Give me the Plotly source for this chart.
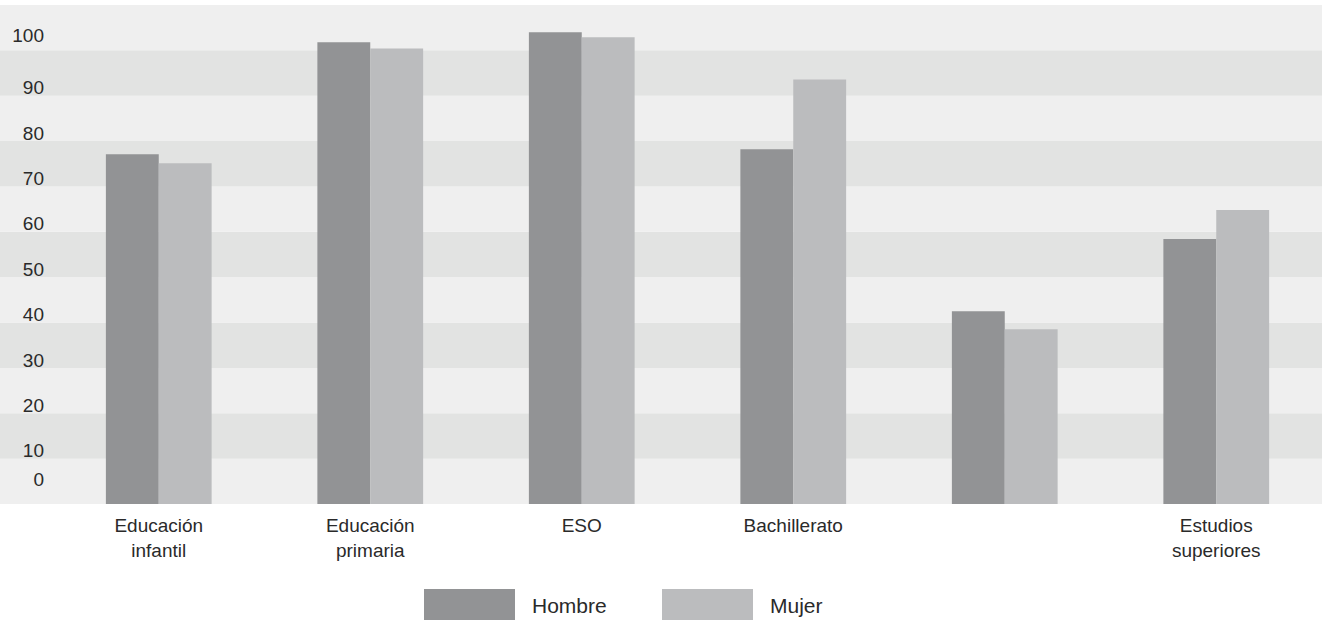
import plotly.graph_objects as go

# ---- data ----
categories = ["Educación infantil", "Educación primaria", "ESO", "Bachillerato", "", "Estudios superiores"]
series_names = ["Hombre", "Mujer"]
hombre = [77.1, 101.8, 104.0, 78.2, 42.5, 58.4]
mujer = [75.1, 100.4, 102.9, 93.6, 38.5, 64.8]
tick_values = [0, 10, 20, 30, 40, 50, 60, 70, 80, 90, 100]
tick_labels = ["0", "10", "20", "30", "40", "50", "60", "70", "80", "90", "100"]

colors = ["#929395", "#bbbcbe"]
band_light = "#efefef"
band_dark = "#e2e3e2"
text_color = "#2a2a2a"
FONT = "Liberation Sans, Arial, sans-serif"

W, H = 1322, 620
ML, MR, MT, MB = 53, 0, 5, 116
plot_w = W - ML - MR
plot_h = H - MT - MB
y_max = 110

x_pos = list(range(len(categories)))
fig = go.Figure()
for name, vals, col in zip(series_names, [hombre, mujer], colors):
    fig.add_trace(go.Bar(x=x_pos, y=vals, name=name, marker=dict(color=col, line=dict(width=0)),
                         showlegend=False))

# alternating background bands (extend into left margin)
shapes = []
x_left = -ML / plot_w
for k in range(int(y_max / 10)):
    shapes.append(dict(type="rect", xref="paper", yref="paper", layer="below",
                       x0=x_left, x1=1, y0=k * 10 / y_max, y1=(k + 1) * 10 / y_max,
                       fillcolor=band_light if k % 2 == 0 else band_dark, line=dict(width=0)))

# tick label placement (labels sit just above band boundaries)
def label_pos(v):
    if v == 0:
        return v + 25 * y_max / plot_h
    if v == 100:
        return v + 15 * y_max / plot_h
    return v + 8 * y_max / plot_h
tickpos = [label_pos(v) for v in tick_values]

# manual legend with large swatches
annotations = []
def px_to_paper_x(px):
    return (px - ML) / plot_w
def py_to_paper_y(py):
    return (H - MB - py) / plot_h

legend_items = [(424, 515, 530), (662, 753, 768)]
for (sx0, sx1, tx), name, col in zip(legend_items, series_names, colors):
    shapes.append(dict(type="rect", xref="paper", yref="paper",
                       x0=px_to_paper_x(sx0), x1=px_to_paper_x(sx1),
                       y0=py_to_paper_y(622), y1=py_to_paper_y(589),
                       fillcolor=col, line=dict(width=0)))
    annotations.append(dict(xref="paper", yref="paper", x=px_to_paper_x(tx), y=py_to_paper_y(605),
                            text=name, showarrow=False, xanchor="left", yanchor="middle",
                            font=dict(family=FONT, size=21, color=text_color)))

fig.update_layout(
    width=W, height=H,
    margin=dict(l=ML, r=MR, t=MT, b=MB),
    paper_bgcolor="white", plot_bgcolor="rgba(0,0,0,0)",
    barmode="group", bargap=0.5, bargroupgap=0,
    shapes=shapes, annotations=annotations,
    showlegend=False,
    font=dict(family=FONT, color=text_color),
    xaxis=dict(range=[-0.5, len(categories) - 0.5], tickvals=x_pos,
               ticktext=[c.replace(" ", "<br>") for c in categories],
               showgrid=False, zeroline=False, showline=False, ticks="",
               ticklabelstandoff=8,
               tickfont=dict(family=FONT, size=19, color=text_color)),
    yaxis=dict(range=[0, y_max], tickvals=tickpos, ticktext=tick_labels,
               showgrid=False, zeroline=False, showline=False, ticks="",
               ticklabelstandoff=8,
               tickfont=dict(family=FONT, size=19, color=text_color)),
)

fig.write_html("out.html", config={"displayModeBar": False},
               post_script="document.body.style.margin='0';document.body.style.overflow='hidden';")
